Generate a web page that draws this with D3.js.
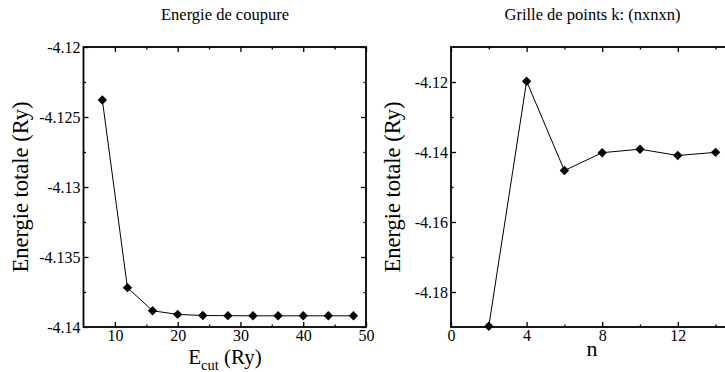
<!DOCTYPE html>
<html>
<head>
<meta charset="utf-8">
<script src="https://cdn.jsdelivr.net/npm/d3@7"></script>
<style>
  html, body { margin: 0; padding: 0; background: #fff; }
  svg { display: block; }
</style>
</head>
<body>
<svg id="chart" width="725" height="372"></svg>
<script>
// Convergence de l'énergie totale en fonction de Ecut
const ecutValues = [8, 12, 16, 20, 24, 28, 32, 36, 40, 44, 48];
const ecutEnergy = [-4.12379, -4.13719, -4.13884, -4.13910, -4.13918, -4.13919, -4.13920, -4.13920, -4.13920, -4.13920, -4.13920];
const ecutTicks = [10, 20, 30, 40, 50];
const ecutMinor = [15, 25, 35, 45];
const ecutEnergyTicks = [-4.12, -4.125, -4.13, -4.135, -4.14];
const ecutEnergyMinor = [-4.1225, -4.1275, -4.1325, -4.1375];

// Convergence en fonction de la grille de points k (n x n x n)
const kgridN = [2, 4, 6, 8, 10, 12, 14];
const kgridEnergy = [-4.1898, -4.1198, -4.1453, -4.1402, -4.1392, -4.1410, -4.1401];
const kgridTicks = [0, 4, 8, 12];
const kgridMinor = [2, 6, 10, 14];
const kgridEnergyTicks = [-4.12, -4.14, -4.16, -4.18];
const kgridEnergyMinor = [-4.13, -4.15, -4.17];

const SERIF = "Liberation Serif";
const TICK_FONT = 16;

const svg = d3.select("#chart");

function panel(cfg) {
  const x = d3.scaleLinear().domain(cfg.xDomain).range([cfg.left, cfg.right]);
  const y = d3.scaleLinear().domain(cfg.yDomain).range([cfg.bottom, cfg.top]);
  const g = svg.append("g");

  const styleAxis = sel => {
    sel.attr("font-family", SERIF).attr("font-size", TICK_FONT);
    sel.select(".domain").remove();
    sel.selectAll(".tick line").attr("stroke", "#000").attr("stroke-width", 1.3);
    sel.selectAll(".tick text").attr("fill", "#000");
  };

  // major ticks, pointing inward on all four sides
  g.append("g").attr("transform", `translate(0,${cfg.bottom})`)
    .call(d3.axisBottom(x).tickValues(cfg.xTicks).tickFormat(d3.format("d")).tickSize(-5).tickPadding(2.5))
    .call(styleAxis);
  g.append("g").attr("transform", `translate(0,${cfg.top})`)
    .call(d3.axisTop(x).tickValues(cfg.xTicks).tickFormat("").tickSize(-5))
    .call(styleAxis);
  g.append("g").attr("transform", `translate(${cfg.left},0)`)
    .call(d3.axisLeft(y).tickValues(cfg.yTicks).tickFormat(d => String(d)).tickSize(-5).tickPadding(3))
    .call(styleAxis);
  g.append("g").attr("transform", `translate(${cfg.right},0)`)
    .call(d3.axisRight(y).tickValues(cfg.yTicks).tickFormat("").tickSize(-5))
    .call(styleAxis);

  // minor ticks
  g.append("g").attr("transform", `translate(0,${cfg.bottom})`)
    .call(d3.axisBottom(x).tickValues(cfg.xMinor).tickFormat("").tickSize(-2.5)).call(styleAxis);
  g.append("g").attr("transform", `translate(0,${cfg.top})`)
    .call(d3.axisTop(x).tickValues(cfg.xMinor).tickFormat("").tickSize(-2.5)).call(styleAxis);
  g.append("g").attr("transform", `translate(${cfg.left},0)`)
    .call(d3.axisLeft(y).tickValues(cfg.yMinor).tickFormat("").tickSize(-2.5)).call(styleAxis);
  g.append("g").attr("transform", `translate(${cfg.right},0)`)
    .call(d3.axisRight(y).tickValues(cfg.yMinor).tickFormat("").tickSize(-2.5)).call(styleAxis);

  // frame
  g.append("rect")
    .attr("x", cfg.left).attr("y", cfg.top)
    .attr("width", cfg.right - cfg.left).attr("height", cfg.bottom - cfg.top)
    .attr("fill", "none").attr("stroke", "#000").attr("stroke-width", 1.8);

  // data line
  const pts = cfg.xs.map((v, i) => [v, cfg.ys[i]]);
  g.append("path").datum(pts)
    .attr("fill", "none").attr("stroke", "#000").attr("stroke-width", 1)
    .attr("d", d3.line().x(d => x(d[0])).y(d => y(d[1])));

  // diamond markers
  const diamond = d3.symbol().type(d3.symbolSquare).size(44);
  g.selectAll("path.mk").data(pts).join("path")
    .attr("class", "mk")
    .attr("d", diamond)
    .attr("transform", d => `translate(${x(d[0])},${y(d[1])}) rotate(45)`)
    .attr("fill", "#000");

  // title
  g.append("text")
    .attr("x", cfg.titleX).attr("y", 20)
    .attr("text-anchor", "middle").attr("font-size", 16.5)
    .text(cfg.title);

  // y label
  g.append("text")
    .attr("transform", `translate(${cfg.yLabelX},${(cfg.top + cfg.bottom) / 2}) rotate(-90)`)
    .attr("text-anchor", "middle").attr("font-size", 22.5)
    .text("Energie totale (Ry)");

  return { g, x, y };
}

const left = panel({
  left: 83.5, right: 366, top: 47, bottom: 327,
  xDomain: [5, 50], yDomain: [-4.14, -4.12],
  xTicks: ecutTicks, xMinor: ecutMinor,
  yTicks: ecutEnergyTicks, yMinor: ecutEnergyMinor,
  xs: ecutValues, ys: ecutEnergy,
  title: "Energie de coupure", titleX: 225, yLabelX: 28
});

const right = panel({
  left: 451, right: 753.4, top: 47, bottom: 327,
  xDomain: [0, 16], yDomain: [-4.19, -4.11],
  xTicks: kgridTicks, xMinor: kgridMinor,
  yTicks: kgridEnergyTicks, yMinor: kgridEnergyMinor,
  xs: kgridN, ys: kgridEnergy,
  title: "Grille de points k: (nxnxn)", titleX: 592.5, yLabelX: 400
});

// x labels
const xl = left.g.append("text")
  .attr("x", 225).attr("y", 363.5)
  .attr("text-anchor", "middle").attr("font-size", 21);
xl.append("tspan").text("E");
xl.append("tspan").attr("dy", 6.5).attr("font-size", 14.5).text("cut");
xl.append("tspan").attr("dy", -6.5).text(" (Ry)");

right.g.append("text")
  .attr("x", 592).attr("y", 356)
  .attr("text-anchor", "middle").attr("font-size", 22)
  .text("n");

// every label in the serif face
svg.selectAll("text").attr("font-family", SERIF);
</script>
</body>
</html>
